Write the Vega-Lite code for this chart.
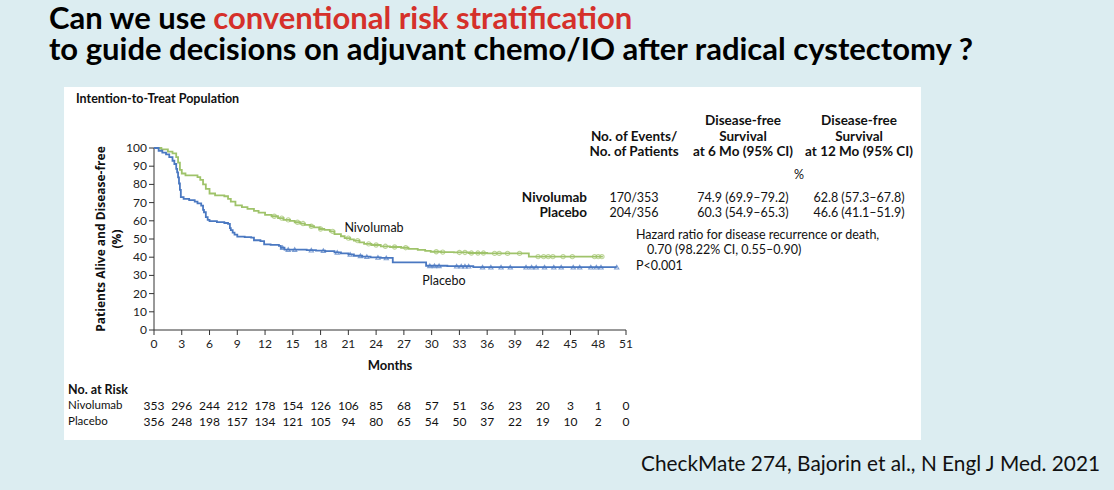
{
  "$schema": "https://vega.github.io/schema/vega-lite/v6.json",
  "autosize": {"type": "pad"},
  "width": 472,
  "height": 182,
  "padding": {"left": 48, "top": 4, "right": 20, "bottom": 18},
  "background": "#dcedf1",
  "config": {
    "font": "Lato",
    "view": {"stroke": null},
    "axis": {"disable": true},
    "text": {"font": "Lato", "color": "#111111", "baseline": "middle"}
  },
  "datasets": {
    "km": [
      {"arm": "Nivolumab", "month": 0, "pct": 100},
      {"arm": "Nivolumab", "month": 0.8, "pct": 99.2},
      {"arm": "Nivolumab", "month": 1.5, "pct": 98},
      {"arm": "Nivolumab", "month": 2.0, "pct": 97},
      {"arm": "Nivolumab", "month": 2.4, "pct": 95},
      {"arm": "Nivolumab", "month": 2.6, "pct": 92},
      {"arm": "Nivolumab", "month": 2.8, "pct": 88},
      {"arm": "Nivolumab", "month": 3.0, "pct": 86},
      {"arm": "Nivolumab", "month": 3.4, "pct": 85},
      {"arm": "Nivolumab", "month": 4.7, "pct": 84},
      {"arm": "Nivolumab", "month": 5.0, "pct": 82.5},
      {"arm": "Nivolumab", "month": 5.3, "pct": 80},
      {"arm": "Nivolumab", "month": 5.6, "pct": 77.5},
      {"arm": "Nivolumab", "month": 6.0, "pct": 75},
      {"arm": "Nivolumab", "month": 6.6, "pct": 74},
      {"arm": "Nivolumab", "month": 7.6, "pct": 73.5},
      {"arm": "Nivolumab", "month": 8.0, "pct": 72},
      {"arm": "Nivolumab", "month": 8.3, "pct": 70.5},
      {"arm": "Nivolumab", "month": 8.8, "pct": 68.5},
      {"arm": "Nivolumab", "month": 9.5, "pct": 67.5},
      {"arm": "Nivolumab", "month": 10.1, "pct": 66.5},
      {"arm": "Nivolumab", "month": 10.8, "pct": 65.5},
      {"arm": "Nivolumab", "month": 11.3, "pct": 64.5},
      {"arm": "Nivolumab", "month": 12.0, "pct": 63.3},
      {"arm": "Nivolumab", "month": 12.7, "pct": 62.5},
      {"arm": "Nivolumab", "month": 13.4, "pct": 61.5},
      {"arm": "Nivolumab", "month": 14.0, "pct": 60.5},
      {"arm": "Nivolumab", "month": 14.7, "pct": 60},
      {"arm": "Nivolumab", "month": 15.2, "pct": 59.2},
      {"arm": "Nivolumab", "month": 15.8, "pct": 58.5},
      {"arm": "Nivolumab", "month": 16.3, "pct": 57.8},
      {"arm": "Nivolumab", "month": 16.9, "pct": 57},
      {"arm": "Nivolumab", "month": 17.3, "pct": 56.4},
      {"arm": "Nivolumab", "month": 17.9, "pct": 55.5},
      {"arm": "Nivolumab", "month": 18.4, "pct": 55},
      {"arm": "Nivolumab", "month": 19.0, "pct": 54.2},
      {"arm": "Nivolumab", "month": 19.5, "pct": 52.7},
      {"arm": "Nivolumab", "month": 20.2, "pct": 51.5},
      {"arm": "Nivolumab", "month": 20.6, "pct": 50.5},
      {"arm": "Nivolumab", "month": 21.2, "pct": 49.8},
      {"arm": "Nivolumab", "month": 21.6, "pct": 49.1},
      {"arm": "Nivolumab", "month": 22.2, "pct": 48.2},
      {"arm": "Nivolumab", "month": 22.7, "pct": 47.3},
      {"arm": "Nivolumab", "month": 23.5, "pct": 46.7},
      {"arm": "Nivolumab", "month": 24.5, "pct": 46},
      {"arm": "Nivolumab", "month": 25.5, "pct": 45.6},
      {"arm": "Nivolumab", "month": 26.7, "pct": 45.2},
      {"arm": "Nivolumab", "month": 27.5, "pct": 44.6},
      {"arm": "Nivolumab", "month": 28.5, "pct": 44},
      {"arm": "Nivolumab", "month": 29.3, "pct": 43.5},
      {"arm": "Nivolumab", "month": 29.9, "pct": 43},
      {"arm": "Nivolumab", "month": 31.0, "pct": 42.8},
      {"arm": "Nivolumab", "month": 32.4, "pct": 42.6},
      {"arm": "Nivolumab", "month": 34.0, "pct": 42.3},
      {"arm": "Nivolumab", "month": 36.0, "pct": 42.1},
      {"arm": "Nivolumab", "month": 40.5, "pct": 40.3},
      {"arm": "Nivolumab", "month": 48.5, "pct": 40.3},
      {"arm": "Placebo", "month": 0, "pct": 100},
      {"arm": "Placebo", "month": 0.5, "pct": 98.5},
      {"arm": "Placebo", "month": 0.9, "pct": 97.5},
      {"arm": "Placebo", "month": 1.3, "pct": 96.5},
      {"arm": "Placebo", "month": 1.65, "pct": 95},
      {"arm": "Placebo", "month": 2.0, "pct": 93},
      {"arm": "Placebo", "month": 2.2, "pct": 91.2},
      {"arm": "Placebo", "month": 2.4, "pct": 88.5},
      {"arm": "Placebo", "month": 2.5, "pct": 86.6},
      {"arm": "Placebo", "month": 2.6, "pct": 83.9},
      {"arm": "Placebo", "month": 2.7, "pct": 80.5},
      {"arm": "Placebo", "month": 2.8, "pct": 77},
      {"arm": "Placebo", "month": 2.9, "pct": 73},
      {"arm": "Placebo", "month": 3.2, "pct": 72},
      {"arm": "Placebo", "month": 3.8, "pct": 71.4},
      {"arm": "Placebo", "month": 4.4, "pct": 70.5},
      {"arm": "Placebo", "month": 4.7, "pct": 69.6},
      {"arm": "Placebo", "month": 5.1, "pct": 68.3},
      {"arm": "Placebo", "month": 5.3, "pct": 66},
      {"arm": "Placebo", "month": 5.4, "pct": 64.7},
      {"arm": "Placebo", "month": 5.6, "pct": 62},
      {"arm": "Placebo", "month": 5.8, "pct": 60.5},
      {"arm": "Placebo", "month": 6.0, "pct": 59.8},
      {"arm": "Placebo", "month": 6.8, "pct": 59.3},
      {"arm": "Placebo", "month": 7.6, "pct": 58.8},
      {"arm": "Placebo", "month": 8.0, "pct": 58.3},
      {"arm": "Placebo", "month": 8.2, "pct": 56},
      {"arm": "Placebo", "month": 8.3, "pct": 54.9},
      {"arm": "Placebo", "month": 8.5, "pct": 53.5},
      {"arm": "Placebo", "month": 8.7, "pct": 52.4},
      {"arm": "Placebo", "month": 9.0, "pct": 51.3},
      {"arm": "Placebo", "month": 9.8, "pct": 51},
      {"arm": "Placebo", "month": 10.5, "pct": 50.8},
      {"arm": "Placebo", "month": 10.8, "pct": 49.3},
      {"arm": "Placebo", "month": 11.5, "pct": 48.8},
      {"arm": "Placebo", "month": 11.9, "pct": 47},
      {"arm": "Placebo", "month": 12.6, "pct": 46.8},
      {"arm": "Placebo", "month": 13.5, "pct": 46.2},
      {"arm": "Placebo", "month": 13.7, "pct": 45.2},
      {"arm": "Placebo", "month": 14.1, "pct": 44.2},
      {"arm": "Placebo", "month": 16.5, "pct": 43.9},
      {"arm": "Placebo", "month": 17.5, "pct": 43.6},
      {"arm": "Placebo", "month": 18.5, "pct": 43.3},
      {"arm": "Placebo", "month": 19.5, "pct": 42.6},
      {"arm": "Placebo", "month": 20.2, "pct": 42.1},
      {"arm": "Placebo", "month": 21.0, "pct": 41.5},
      {"arm": "Placebo", "month": 21.6, "pct": 40.8},
      {"arm": "Placebo", "month": 22.5, "pct": 40.3},
      {"arm": "Placebo", "month": 23.4, "pct": 39.9},
      {"arm": "Placebo", "month": 24.5, "pct": 39.6},
      {"arm": "Placebo", "month": 25.8, "pct": 37.2},
      {"arm": "Placebo", "month": 29.4, "pct": 35.3},
      {"arm": "Placebo", "month": 31.7, "pct": 35.1},
      {"arm": "Placebo", "month": 34.5, "pct": 34.5},
      {"arm": "Placebo", "month": 50.0, "pct": 34.5}
    ],
    "censor": [
      {"arm": "Nivolumab", "month": 13.0, "pct": 62.5},
      {"arm": "Nivolumab", "month": 13.8, "pct": 61.5},
      {"arm": "Nivolumab", "month": 14.5, "pct": 60.5},
      {"arm": "Nivolumab", "month": 15.5, "pct": 59.2},
      {"arm": "Nivolumab", "month": 16.1, "pct": 58.5},
      {"arm": "Nivolumab", "month": 17.0, "pct": 57},
      {"arm": "Nivolumab", "month": 18.0, "pct": 55.5},
      {"arm": "Nivolumab", "month": 19.3, "pct": 54.2},
      {"arm": "Nivolumab", "month": 21.0, "pct": 50.5},
      {"arm": "Nivolumab", "month": 22.0, "pct": 49.1},
      {"arm": "Nivolumab", "month": 23.2, "pct": 47.3},
      {"arm": "Nivolumab", "month": 24.0, "pct": 46.7},
      {"arm": "Nivolumab", "month": 25.0, "pct": 46},
      {"arm": "Nivolumab", "month": 26.0, "pct": 45.6},
      {"arm": "Nivolumab", "month": 27.2, "pct": 45.2},
      {"arm": "Nivolumab", "month": 30.5, "pct": 43},
      {"arm": "Nivolumab", "month": 31.2, "pct": 42.8},
      {"arm": "Nivolumab", "month": 33.0, "pct": 42.6},
      {"arm": "Nivolumab", "month": 33.6, "pct": 42.6},
      {"arm": "Nivolumab", "month": 34.3, "pct": 42.3},
      {"arm": "Nivolumab", "month": 35.0, "pct": 42.3},
      {"arm": "Nivolumab", "month": 35.6, "pct": 42.3},
      {"arm": "Nivolumab", "month": 36.8, "pct": 42.1},
      {"arm": "Nivolumab", "month": 37.3, "pct": 42.1},
      {"arm": "Nivolumab", "month": 38.2, "pct": 42.1},
      {"arm": "Nivolumab", "month": 39.5, "pct": 42.1},
      {"arm": "Nivolumab", "month": 41.5, "pct": 40.3},
      {"arm": "Nivolumab", "month": 42.1, "pct": 40.3},
      {"arm": "Nivolumab", "month": 42.6, "pct": 40.3},
      {"arm": "Nivolumab", "month": 43.1, "pct": 40.3},
      {"arm": "Nivolumab", "month": 44.2, "pct": 40.3},
      {"arm": "Nivolumab", "month": 45.2, "pct": 40.3},
      {"arm": "Nivolumab", "month": 47.6, "pct": 40.3},
      {"arm": "Nivolumab", "month": 48.0, "pct": 40.3},
      {"arm": "Nivolumab", "month": 48.4, "pct": 40.3},
      {"arm": "Placebo", "month": 13.9, "pct": 45.2},
      {"arm": "Placebo", "month": 14.5, "pct": 44.2},
      {"arm": "Placebo", "month": 15.2, "pct": 44.2},
      {"arm": "Placebo", "month": 17.0, "pct": 43.9},
      {"arm": "Placebo", "month": 18.3, "pct": 43.6},
      {"arm": "Placebo", "month": 19.8, "pct": 42.6},
      {"arm": "Placebo", "month": 21.2, "pct": 41.5},
      {"arm": "Placebo", "month": 22.3, "pct": 40.8},
      {"arm": "Placebo", "month": 23.0, "pct": 40.3},
      {"arm": "Placebo", "month": 24.2, "pct": 39.9},
      {"arm": "Placebo", "month": 25.1, "pct": 39.6},
      {"arm": "Placebo", "month": 29.8, "pct": 35.3},
      {"arm": "Placebo", "month": 30.3, "pct": 35.3},
      {"arm": "Placebo", "month": 30.8, "pct": 35.3},
      {"arm": "Placebo", "month": 32.7, "pct": 35.1},
      {"arm": "Placebo", "month": 33.2, "pct": 35.1},
      {"arm": "Placebo", "month": 33.6, "pct": 35.1},
      {"arm": "Placebo", "month": 34.0, "pct": 35.1},
      {"arm": "Placebo", "month": 35.5, "pct": 34.5},
      {"arm": "Placebo", "month": 36.4, "pct": 34.5},
      {"arm": "Placebo", "month": 37.5, "pct": 34.5},
      {"arm": "Placebo", "month": 38.5, "pct": 34.5},
      {"arm": "Placebo", "month": 40.2, "pct": 34.5},
      {"arm": "Placebo", "month": 40.8, "pct": 34.5},
      {"arm": "Placebo", "month": 41.3, "pct": 34.5},
      {"arm": "Placebo", "month": 42.2, "pct": 34.5},
      {"arm": "Placebo", "month": 43.2, "pct": 34.5},
      {"arm": "Placebo", "month": 44.0, "pct": 34.5},
      {"arm": "Placebo", "month": 45.3, "pct": 34.5},
      {"arm": "Placebo", "month": 46.0, "pct": 34.5},
      {"arm": "Placebo", "month": 47.2, "pct": 34.5},
      {"arm": "Placebo", "month": 47.8, "pct": 34.5},
      {"arm": "Placebo", "month": 48.3, "pct": 34.5},
      {"arm": "Placebo", "month": 50.0, "pct": 34.5}
    ],
    "risk": [
      {"arm": "Nivolumab", "month": 0, "n": 353}, {"arm": "Nivolumab", "month": 3, "n": 296},
      {"arm": "Nivolumab", "month": 6, "n": 244}, {"arm": "Nivolumab", "month": 9, "n": 212},
      {"arm": "Nivolumab", "month": 12, "n": 178}, {"arm": "Nivolumab", "month": 15, "n": 154},
      {"arm": "Nivolumab", "month": 18, "n": 126}, {"arm": "Nivolumab", "month": 21, "n": 106},
      {"arm": "Nivolumab", "month": 24, "n": 85}, {"arm": "Nivolumab", "month": 27, "n": 68},
      {"arm": "Nivolumab", "month": 30, "n": 57}, {"arm": "Nivolumab", "month": 33, "n": 51},
      {"arm": "Nivolumab", "month": 36, "n": 36}, {"arm": "Nivolumab", "month": 39, "n": 23},
      {"arm": "Nivolumab", "month": 42, "n": 20}, {"arm": "Nivolumab", "month": 45, "n": 3},
      {"arm": "Nivolumab", "month": 48, "n": 1}, {"arm": "Nivolumab", "month": 51, "n": 0},
      {"arm": "Placebo", "month": 0, "n": 356}, {"arm": "Placebo", "month": 3, "n": 248},
      {"arm": "Placebo", "month": 6, "n": 198}, {"arm": "Placebo", "month": 9, "n": 157},
      {"arm": "Placebo", "month": 12, "n": 134}, {"arm": "Placebo", "month": 15, "n": 121},
      {"arm": "Placebo", "month": 18, "n": 105}, {"arm": "Placebo", "month": 21, "n": 94},
      {"arm": "Placebo", "month": 24, "n": 80}, {"arm": "Placebo", "month": 27, "n": 65},
      {"arm": "Placebo", "month": 30, "n": 54}, {"arm": "Placebo", "month": 33, "n": 50},
      {"arm": "Placebo", "month": 36, "n": 37}, {"arm": "Placebo", "month": 39, "n": 22},
      {"arm": "Placebo", "month": 42, "n": 19}, {"arm": "Placebo", "month": 45, "n": 10},
      {"arm": "Placebo", "month": 48, "n": 2}, {"arm": "Placebo", "month": 51, "n": 0}
    ],
    "xticks": [
      {"month": 0}, {"month": 3}, {"month": 6}, {"month": 9}, {"month": 12}, {"month": 15},
      {"month": 18}, {"month": 21}, {"month": 24}, {"month": 27}, {"month": 30}, {"month": 33},
      {"month": 36}, {"month": 39}, {"month": 42}, {"month": 45}, {"month": 48}, {"month": 51}
    ],
    "yticks": [
      {"pct": 0}, {"pct": 10}, {"pct": 20}, {"pct": 30}, {"pct": 40}, {"pct": 50},
      {"pct": 60}, {"pct": 70}, {"pct": 80}, {"pct": 90}, {"pct": 100}
    ],
    "notes": [
      {"role": "title", "text": "Can we use", "month": -11.35, "pct": 170.3},
      {"role": "title_red", "text": "conventional risk stratification", "month": 6.4, "pct": 170.3},
      {"role": "title", "text": "to guide decisions on adjuvant chemo/IO after radical cystectomy ?", "month": -11.35, "pct": 153.3},
      {"role": "panel", "text": "Intention-to-Treat Population", "month": -8.43, "pct": 126.9},
      {"role": "colhead", "text": "No. of Events/", "month": 51.87, "pct": 106.0},
      {"role": "colhead", "text": "No. of Patients", "month": 51.87, "pct": 97.8},
      {"role": "colhead", "text": "Disease-free", "month": 63.64, "pct": 114.8},
      {"role": "colhead", "text": "Survival", "month": 63.64, "pct": 106.0},
      {"role": "colhead", "text": "at 6 Mo (95% CI)", "month": 63.64, "pct": 97.8},
      {"role": "colhead", "text": "Disease-free", "month": 76.18, "pct": 114.8},
      {"role": "colhead", "text": "Survival", "month": 76.18, "pct": 106.0},
      {"role": "colhead", "text": "at 12 Mo (95% CI)", "month": 76.18, "pct": 97.8},
      {"role": "cell", "text": "%", "month": 69.69, "pct": 85.2},
      {"role": "rowhead", "text": "Nivolumab", "month": 46.79, "pct": 72.5},
      {"role": "rowhead", "text": "Placebo", "month": 46.79, "pct": 64.3},
      {"role": "cell", "text": "170/353", "month": 51.87, "pct": 72.5},
      {"role": "cell", "text": "204/356", "month": 51.87, "pct": 64.3},
      {"role": "cell", "text": "74.9 (69.9–79.2)", "month": 63.64, "pct": 72.5},
      {"role": "cell", "text": "60.3 (54.9–65.3)", "month": 63.64, "pct": 64.3},
      {"role": "cell", "text": "62.8 (57.3–67.8)", "month": 76.18, "pct": 72.5},
      {"role": "cell", "text": "46.6 (41.1–51.9)", "month": 76.18, "pct": 64.3},
      {"role": "note", "text": "Hazard ratio for disease recurrence or death,", "month": 52.08, "pct": 52.2},
      {"role": "note", "text": "0.70 (98.22% CI, 0.55–0.90)", "month": 53.27, "pct": 44.0},
      {"role": "note", "text": "P<0.001", "month": 52.08, "pct": 35.2},
      {"role": "cell", "text": "Nivolumab", "month": 23.77, "pct": 56.0},
      {"role": "cell", "text": "Placebo", "month": 31.33, "pct": 26.9},
      {"role": "axistitle", "text": "Months", "month": 25.5, "pct": -19.6},
      {"role": "ytitle", "text": "Patients Alive and Disease-free", "month": -5.73, "pct": 50},
      {"role": "ytitle", "text": "(%)", "month": -4.0, "pct": 50},
      {"role": "panel", "text": "No. at Risk", "month": -9.29, "pct": -33.0},
      {"role": "risklabel", "text": "Nivolumab", "month": -9.29, "pct": -41.8},
      {"role": "risklabel", "text": "Placebo", "month": -9.29, "pct": -50.5},
      {"role": "cite", "text": "CheckMate 274, Bajorin et al., N Engl J Med. 2021", "month": 52.62, "pct": -74.2}
    ]
  },
  "layer": [
    {
      "data": {"values": [{"panel": "figure"}]},
      "mark": {"type": "rect", "fill": "#ffffff", "stroke": null},
      "encoding": {
        "x": {"datum": -9.72, "type": "quantitative", "scale": {"domain": [0, 51], "nice": false, "zero": false}},
        "x2": {"datum": 82.87},
        "y": {"datum": 133.5, "type": "quantitative", "scale": {"domain": [0, 100], "nice": false, "zero": false}},
        "y2": {"datum": -60.4}
      }
    },
    {
      "data": {"values": [{"axis": "x"}]},
      "mark": {"type": "rule", "color": "#333333", "strokeWidth": 1},
      "encoding": {
        "x": {"datum": 0, "type": "quantitative"},
        "x2": {"datum": 51},
        "y": {"datum": 0, "type": "quantitative"}
      }
    },
    {
      "data": {"values": [{"axis": "y"}]},
      "mark": {"type": "rule", "color": "#333333", "strokeWidth": 1},
      "encoding": {
        "x": {"datum": 0, "type": "quantitative"},
        "y": {"datum": 0, "type": "quantitative"},
        "y2": {"datum": 100}
      }
    },
    {
      "data": {"name": "xticks"},
      "mark": {"type": "rule", "color": "#333333", "strokeWidth": 1},
      "encoding": {
        "x": {"field": "month", "type": "quantitative"},
        "y": {"datum": 0, "type": "quantitative"},
        "y2": {"datum": -2.75}
      }
    },
    {
      "data": {"name": "xticks"},
      "mark": {"type": "text", "align": "center", "fontSize": 12, "color": "#222222"},
      "encoding": {
        "x": {"field": "month", "type": "quantitative"},
        "y": {"datum": -7.7, "type": "quantitative"},
        "text": {"field": "month", "type": "quantitative"}
      }
    },
    {
      "data": {"name": "yticks"},
      "mark": {"type": "rule", "color": "#333333", "strokeWidth": 1},
      "encoding": {
        "x": {"datum": 0, "type": "quantitative"},
        "x2": {"datum": -0.54},
        "y": {"field": "pct", "type": "quantitative"}
      }
    },
    {
      "data": {"name": "yticks"},
      "mark": {"type": "text", "align": "right", "fontSize": 12, "color": "#222222"},
      "encoding": {
        "x": {"datum": -0.76, "type": "quantitative"},
        "y": {"field": "pct", "type": "quantitative"},
        "text": {"field": "pct", "type": "quantitative"}
      }
    },
    {
      "data": {"name": "km"},
      "mark": {"type": "line", "interpolate": "step-after", "strokeWidth": 1.8},
      "encoding": {
        "x": {"field": "month", "type": "quantitative", "scale": {"domain": [0, 51], "nice": false, "zero": false}},
        "y": {"field": "pct", "type": "quantitative", "scale": {"domain": [0, 100], "nice": false, "zero": false}},
        "color": {"field": "arm", "type": "nominal", "scale": {"domain": ["Nivolumab", "Placebo"], "range": ["#9fc36a", "#4a78c1"]}, "legend": null}
      }
    },
    {
      "data": {"name": "censor"},
      "mark": {"type": "point", "filled": false, "size": 18, "strokeWidth": 1.1},
      "encoding": {
        "x": {"field": "month", "type": "quantitative"},
        "y": {"field": "pct", "type": "quantitative"},
        "color": {"field": "arm", "type": "nominal", "legend": null},
        "shape": {"field": "arm", "type": "nominal", "scale": {"domain": ["Nivolumab", "Placebo"], "range": ["circle", "triangle-up"]}, "legend": null}
      }
    },
    {
      "data": {"name": "notes"},
      "transform": [{"filter": "datum.role === 'title'"}],
      "mark": {"type": "text", "align": "left", "fontSize": 31, "fontWeight": "bold", "color": "#000000"},
      "encoding": {
        "x": {"field": "month", "type": "quantitative"},
        "y": {"field": "pct", "type": "quantitative"},
        "text": {"field": "text"}
      }
    },
    {
      "data": {"name": "notes"},
      "transform": [{"filter": "datum.role === 'title_red'"}],
      "mark": {"type": "text", "align": "left", "fontSize": 31, "fontWeight": "bold", "color": "#d5302a"},
      "encoding": {
        "x": {"field": "month", "type": "quantitative"},
        "y": {"field": "pct", "type": "quantitative"},
        "text": {"field": "text"}
      }
    },
    {
      "data": {"name": "notes"},
      "transform": [{"filter": "datum.role === 'panel'"}],
      "mark": {"type": "text", "align": "left", "fontSize": 12.5, "fontWeight": "bold"},
      "encoding": {
        "x": {"field": "month", "type": "quantitative"},
        "y": {"field": "pct", "type": "quantitative"},
        "text": {"field": "text"}
      }
    },
    {
      "data": {"name": "notes"},
      "transform": [{"filter": "datum.role === 'axistitle'"}],
      "mark": {"type": "text", "align": "center", "fontSize": 13, "fontWeight": "bold"},
      "encoding": {
        "x": {"field": "month", "type": "quantitative"},
        "y": {"field": "pct", "type": "quantitative"},
        "text": {"field": "text"}
      }
    },
    {
      "data": {"name": "notes"},
      "transform": [{"filter": "datum.role === 'ytitle'"}],
      "mark": {"type": "text", "align": "center", "angle": 270, "font": "Open Sans", "fontSize": 12, "fontWeight": "bold"},
      "encoding": {
        "x": {"field": "month", "type": "quantitative"},
        "y": {"field": "pct", "type": "quantitative"},
        "text": {"field": "text"}
      }
    },
    {
      "data": {"name": "notes"},
      "transform": [{"filter": "datum.role === 'colhead'"}],
      "mark": {"type": "text", "align": "center", "fontSize": 13.5, "fontWeight": "bold"},
      "encoding": {
        "x": {"field": "month", "type": "quantitative"},
        "y": {"field": "pct", "type": "quantitative"},
        "text": {"field": "text"}
      }
    },
    {
      "data": {"name": "notes"},
      "transform": [{"filter": "datum.role === 'rowhead'"}],
      "mark": {"type": "text", "align": "right", "fontSize": 13.5, "fontWeight": "bold"},
      "encoding": {
        "x": {"field": "month", "type": "quantitative"},
        "y": {"field": "pct", "type": "quantitative"},
        "text": {"field": "text"}
      }
    },
    {
      "data": {"name": "notes"},
      "transform": [{"filter": "datum.role === 'cell'"}],
      "mark": {"type": "text", "align": "center", "fontSize": 12.5},
      "encoding": {
        "x": {"field": "month", "type": "quantitative"},
        "y": {"field": "pct", "type": "quantitative"},
        "text": {"field": "text"}
      }
    },
    {
      "data": {"name": "notes"},
      "transform": [{"filter": "datum.role === 'note'"}],
      "mark": {"type": "text", "align": "left", "fontSize": 12.5},
      "encoding": {
        "x": {"field": "month", "type": "quantitative"},
        "y": {"field": "pct", "type": "quantitative"},
        "text": {"field": "text"}
      }
    },
    {
      "data": {"name": "notes"},
      "transform": [{"filter": "datum.role === 'risklabel'"}],
      "mark": {"type": "text", "align": "left", "fontSize": 11.5},
      "encoding": {
        "x": {"field": "month", "type": "quantitative"},
        "y": {"field": "pct", "type": "quantitative"},
        "text": {"field": "text"}
      }
    },
    {
      "data": {"name": "notes"},
      "transform": [{"filter": "datum.role === 'cite'"}],
      "mark": {"type": "text", "align": "left", "fontSize": 20.8, "color": "#111111"},
      "encoding": {
        "x": {"field": "month", "type": "quantitative"},
        "y": {"field": "pct", "type": "quantitative"},
        "text": {"field": "text"}
      }
    },
    {
      "data": {"name": "risk"},
      "transform": [{"filter": "datum.arm === 'Nivolumab'"}],
      "mark": {"type": "text", "align": "center", "fontSize": 12},
      "encoding": {
        "x": {"field": "month", "type": "quantitative"},
        "y": {"datum": -41.8, "type": "quantitative"},
        "text": {"field": "n", "type": "quantitative"}
      }
    },
    {
      "data": {"name": "risk"},
      "transform": [{"filter": "datum.arm === 'Placebo'"}],
      "mark": {"type": "text", "align": "center", "fontSize": 12},
      "encoding": {
        "x": {"field": "month", "type": "quantitative"},
        "y": {"datum": -50.5, "type": "quantitative"},
        "text": {"field": "n", "type": "quantitative"}
      }
    }
  ]
}
